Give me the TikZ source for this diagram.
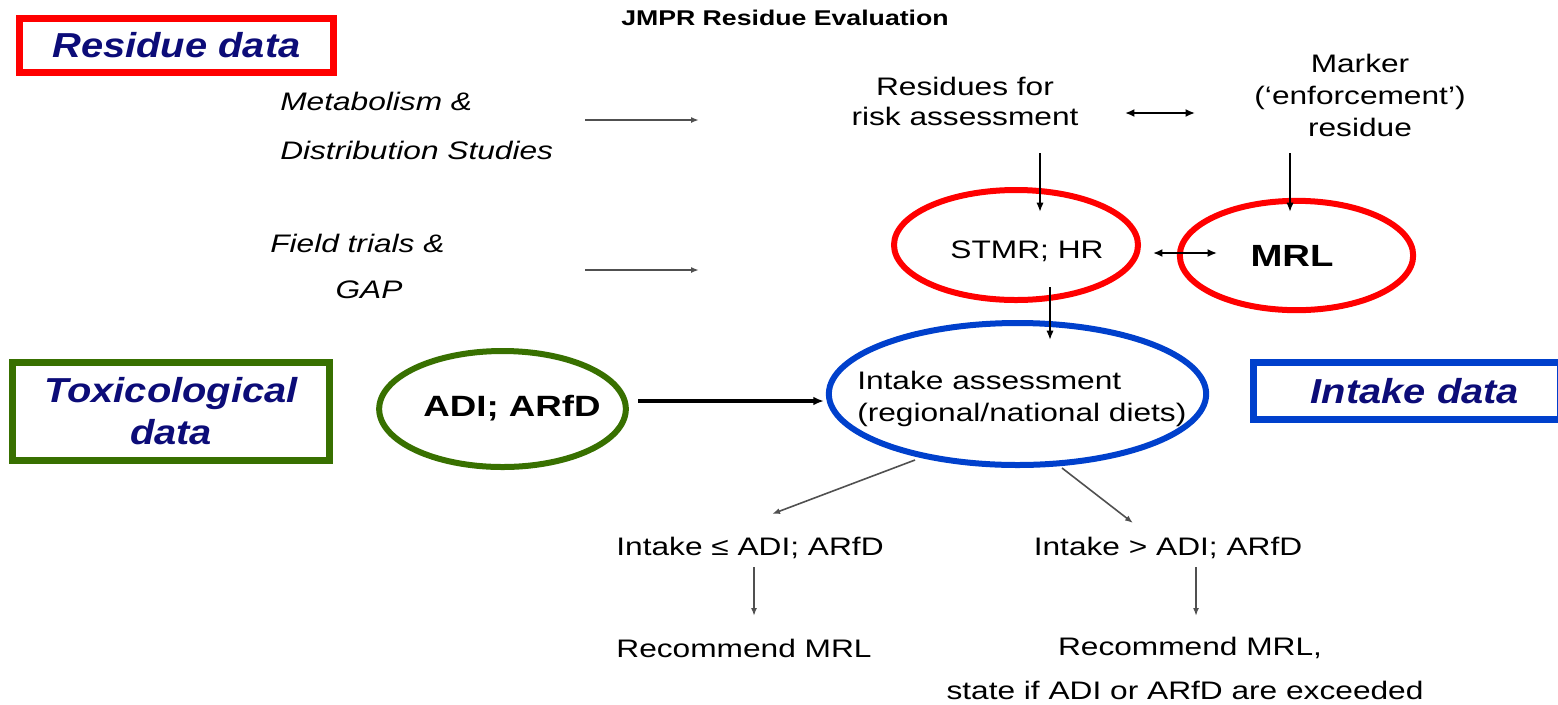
\documentclass[tikz,border=0pt]{standalone}
\usepackage{fontspec}
\setmainfont{Liberation Sans}[FakeStretch=1.25]
\newfontfamily\lblfont{Liberation Sans}[FakeStretch=1.15]
\usetikzlibrary{shapes.geometric,arrows.meta}
\definecolor{cred}{RGB}{255,0,0}
\definecolor{cgreen}{RGB}{56,112,0}
\definecolor{cblue}{RGB}{0,64,204}
\definecolor{cnavy}{RGB}{12,12,120}
\definecolor{cgray}{RGB}{80,80,80}
\begin{document}
\begin{tikzpicture}[x=0.75pt,y=-0.75pt,
  txt/.style={inner sep=0pt, font=\fontsize{19}{23}\selectfont},
  itx/.style={inner sep=0pt, font=\fontsize{19}{23}\selectfont\itshape},
  lbl/.style={draw, line width=5.25pt, inner sep=0pt, align=center, text=cnavy,
    font=\lblfont\fontsize{26}{31.5}\selectfont\bfseries\itshape},
  ring/.style={draw, ellipse, line width=4.5pt, inner sep=0pt},
  thinarrow/.style={draw=cgray, line width=1.2pt, -{Latex[length=6pt,width=4.5pt]}},
  midarrow/.style={draw=black, line width=2.2pt, -{Latex[length=7pt,width=5.5pt]}},
  boldarrow/.style={draw=black, line width=2.8pt, -{Latex[length=8pt,width=6.5pt]}},
  dblarrow/.style={draw=black, line width=2pt, {Latex[length=7pt,width=6pt]}-{Latex[length=7pt,width=6pt]}},
]
\useasboundingbox (0,0) rectangle (1558,704);

% title
\node[inner sep=0pt, font=\fontsize{16}{19}\selectfont\bfseries] (title) at (785,18) {JMPR Residue Evaluation};

% label boxes
\node[lbl, draw=cred, minimum width=236pt, minimum height=40pt] (resbox) at (176.5,45.5) {Residue data};
\node[lbl, draw=cgreen, minimum width=238pt, minimum height=73.5pt] (toxbox) at (171,411.5) {Toxicological\\data};
\node[lbl, draw=cblue, minimum width=230pt, minimum height=43pt] (intbox) at (1407,391) {\hspace*{12pt}Intake data};

% left inputs
\node[itx, anchor=west] (met1) at (280,101) {Metabolism \&};
\node[itx, anchor=west] (met2) at (280,150) {Distribution Studies};
\node[itx, anchor=west] (fld1) at (270,243) {Field trials \&};
\node[itx] (gap) at (369,290) {GAP};
\coordinate (a1s) at (585,120);
\coordinate (a1e) at (699,120);
\coordinate (a2s) at (585,270);
\coordinate (a2e) at (699,270);
\draw[thinarrow] (a1s) -- (a1e);
\draw[thinarrow] (a2s) -- (a2e);

% residues
\node[txt, align=center] (risk) at (965,101.5) {Residues for\\risk assessment};
\node[txt, align=center, font=\fontsize{19}{24}\selectfont] (marker) at (1360,95) {Marker\\(`enforcement')\\residue};
\coordinate (d1s) at (1125,113);
\coordinate (d1e) at (1195,113);
\draw[dblarrow, line width=1.6pt] (d1s) -- (d1e);

% ellipses
\node[ring, draw=cred, minimum width=183pt, minimum height=82.5pt] (stmr) at (1016,245) {};
\node[txt] (stmrt) at (1027,251) {STMR; HR};
\node[ring, draw=cred, minimum width=175pt, minimum height=82pt] (mrl) at (1296.5,255.5) {};
\node[inner sep=0pt, font=\fontsize{23}{27}\selectfont\bfseries] (mrlt) at (1292,256) {MRL};
\node[ring, draw=cblue, minimum width=283pt, minimum height=106.5pt] (intake) at (1017.5,394) {};
\node[txt, align=left, anchor=west, font=\fontsize{19}{24}\selectfont] (intaket) at (857,399) {Intake assessment\\(regional/national diets)};
\node[ring, draw=cgreen, minimum width=185pt, minimum height=87pt] (adi) at (502.5,409) {};
\node[inner sep=0pt, font=\fontsize{22}{26}\selectfont\bfseries] (adit) at (512,408) {ADI; ARfD};

% vertical arrows into STMR / MRL
\coordinate (r1s) at (1040,153);
\coordinate (r1e) at (1040,212);
\coordinate (m1s) at (1290,153);
\coordinate (m1e) at (1290,212);
\draw[midarrow] (r1s) -- (r1e);
\draw[midarrow] (m1s) -- (m1e);

% STMR <-> MRL
\coordinate (d2s) at (1153,253);
\coordinate (d2e) at (1217,253);
\draw[dblarrow] (d2s) -- (d2e);

% STMR -> intake
\coordinate (s1s) at (1050,287);
\coordinate (s1e) at (1050,340);
\draw[midarrow] (s1s) -- (s1e);

% ADI -> intake
\coordinate (adie) at (638,401);
\coordinate (inw) at (824,401);
\draw[boldarrow] (adie) -- (inw);

% outcomes
\node[txt] (le) at (750,548) {Intake ≤ ADI; ARfD};
\node[txt] (gt) at (1168,548) {Intake > ADI; ARfD};
\coordinate (o1s) at (915,460);
\coordinate (o1e) at (772,514);
\coordinate (o2s) at (1062,468);
\coordinate (o2e) at (1133,523);
\draw[thinarrow] (o1s) -- (o1e);
\draw[thinarrow] (o2s) -- (o2e);

\node[txt] (rec1) at (744,648) {Recommend MRL};
\node[txt] (rec2) at (1190,648) {Recommend MRL,};
\node[txt] (rec3) at (1185,690) {state if ADI or ARfD are exceeded};
\coordinate (v1s) at (754,567);
\coordinate (v1e) at (754,616);
\coordinate (v2s) at (1196,567);
\coordinate (v2e) at (1196,616);
\draw[thinarrow] (v1s) -- (v1e);
\draw[thinarrow] (v2s) -- (v2e);
\end{tikzpicture}
\end{document}
